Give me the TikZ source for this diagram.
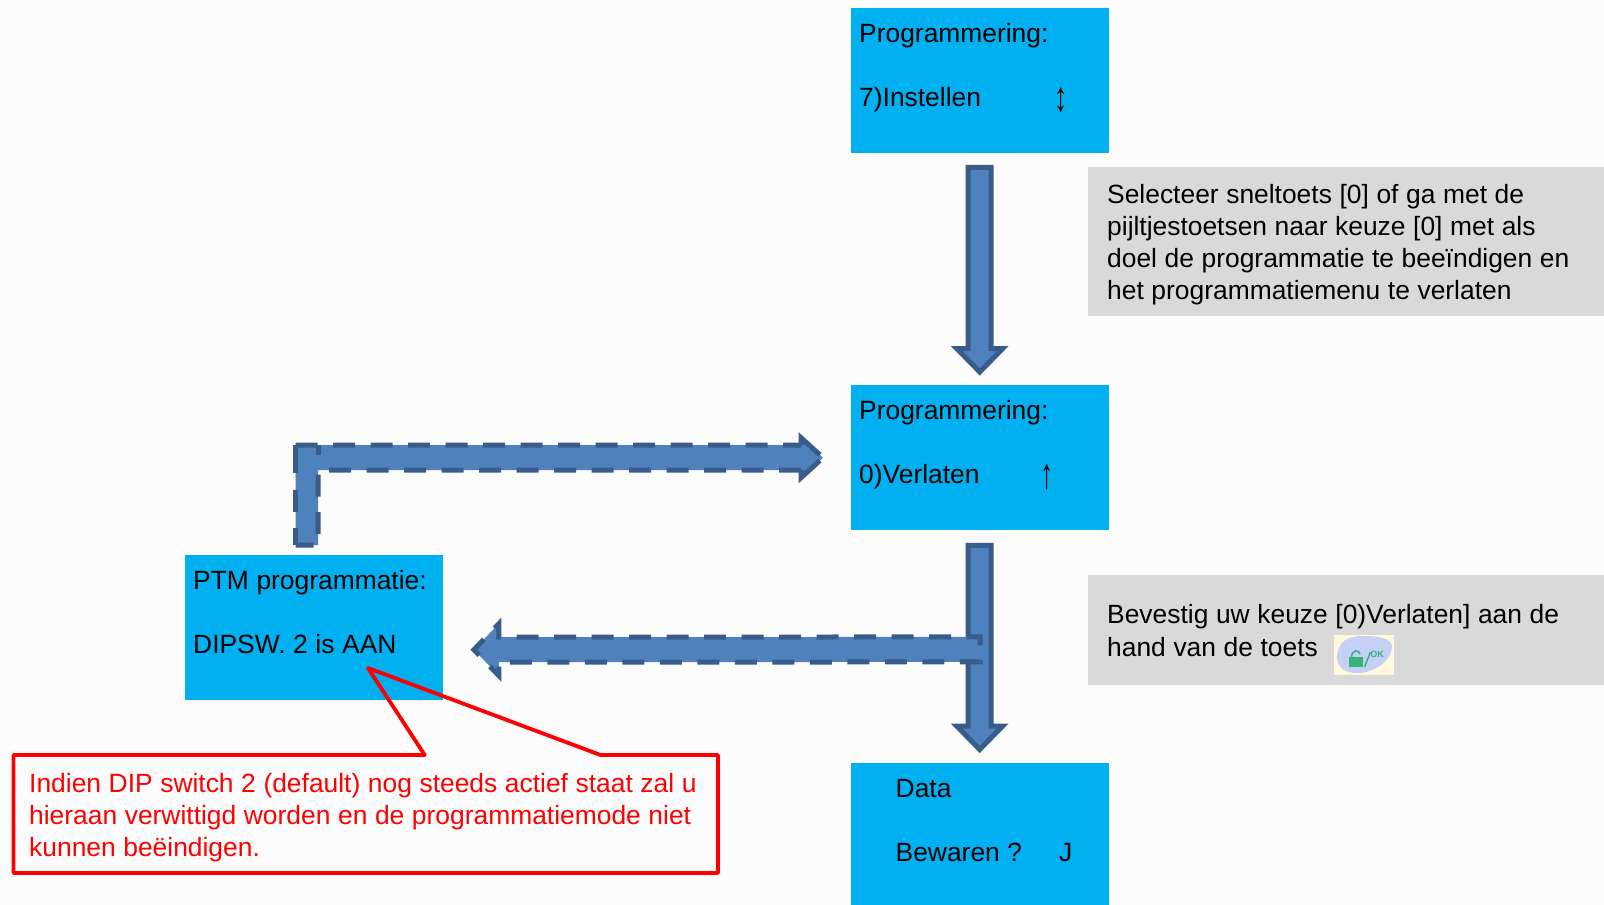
\documentclass[tikz,border=0pt]{standalone}
\usepackage{fontspec}
\usepackage{graphicx}
\setmainfont{Liberation Sans}
\usetikzlibrary{calc}
\definecolor{pagebg}{HTML}{FCFCFD}
\definecolor{lcdblue}{HTML}{00B0F0}
\definecolor{notegrey}{HTML}{D9D9D9}
\definecolor{arrowfill}{HTML}{4F81BD}
\definecolor{arrowline}{HTML}{385D8A}
\definecolor{keyyellow}{HTML}{FFF8DC}
\definecolor{keyblue}{HTML}{C4D0F6}
\definecolor{keygreen}{HTML}{35B57A}
\newcommand{\blockdown}[2]{%
  \draw[blockarrow] ($(#1)+(-11.5,0)$) -- ($(#1)+(11.5,0)$) -- ($(#2)+(11.5,-23.5)$)
    -- ($(#2)+(23,-23.5)$) -- (#2) -- ($(#2)+(-23,-23.5)$) -- ($(#2)+(-11.5,-23.5)$) -- cycle;}
\newcommand{\tallglyph}[1]{\smash{\raisebox{-5pt}{\scalebox{1}[1.6]{#1}}}}
\newcommand{\diagramfont}{\fontsize{26.4}{32}\selectfont}
\newcommand{\tightwords}{\setlength{\spaceskip}{7.6pt}}
\tikzset{
  txt/.style={font=\diagramfont},
  lcd/.style={txt,fill=lcdblue,anchor=north west,minimum width=258pt,minimum height=145pt,
    text width=242pt,inner xsep=8pt,inner ysep=0pt,align=left},
  note/.style={txt,fill=notegrey,anchor=north west,minimum width=516pt,
    text width=478pt,inner xsep=19pt,inner ysep=0pt,align=left},
  blockarrow/.style={fill=arrowfill,draw=arrowline,line width=5pt,miter limit=10},
  dashedblock/.style={blockarrow,dash pattern=on 22pt off 15.5pt},
  dashedstroke/.style={draw=arrowline,line width=5pt,dash pattern=on 22pt off 15.5pt},
  headstroke/.style={draw=arrowline,line width=5pt,dash pattern=on 33pt off 40pt},
  redline/.style={draw=red,line width=3.8pt,line join=round}
}
\begin{document}
\begin{tikzpicture}[x=1pt,y=-1pt]
\useasboundingbox (0,0) rectangle (1604,905);
\fill[pagebg] (0,0) rectangle (1604,905);

\node[lcd] (box1) at (851,8) {\tightwords Programmering:\\\mbox{}\\\makebox[195.6pt][l]{7)Instellen}\tallglyph{↕}\\\mbox{}};
\node[lcd] (box2) at (851,385) {\tightwords Programmering:\\\mbox{}\\\makebox[181pt][l]{0)Verlaten}\tallglyph{↑}\\\mbox{}};
\node[lcd] (box3) at (851,763) {\tightwords\rule{0pt}{19.5pt}\hspace*{36.5pt}Data\\\mbox{}\\\hspace*{36.5pt}\makebox[163.5pt][l]{Bewaren ?}J\\\mbox{}};
\node[lcd] (ptm) at (185,555) {\tightwords PTM programmatie:\\\mbox{}\\DIPSW. 2 is AAN\\\mbox{}};

\node[note,minimum height=148.5pt] (note1) at (1088,167) {\tightwords\rule{0pt}{25.3pt}Selecteer sneltoets [0] of ga met de\\pijltjestoetsen naar keuze [0] met als\\doel de programmatie te beeïndigen en\\het programmatiemenu te verlaten};
\node[note,minimum height=110pt] (note2) at (1088,575) {\tightwords Bevestig uw keuze [0)Verlaten] aan de\\[1pt]hand van de toets};

% key icon
\fill[keyyellow] (1334,635) rectangle (1394,675);
\fill[keyblue] (1337,656) .. controls (1338,640) and (1350,636) .. (1362,636)
  .. controls (1378,636) and (1393,638) .. (1392,648)
  .. controls (1391,660) and (1375,673) .. (1358,673)
  .. controls (1345,673) and (1337,668) .. (1337,656) -- cycle;
\fill[keygreen] (1349,657) rectangle (1362.5,667);
\draw[keygreen,line width=1.6pt] (1351.5,657) .. controls (1351.5,650) and (1359,649) .. (1360,654);
\draw[keygreen,line width=1.4pt] (1364.5,667) -- (1370.5,652);
\node[text=keygreen,font=\fontsize{9}{9}\selectfont\bfseries,inner sep=0pt] (keylabel) at (1377,654) {OK};

% block arrows
\coordinate (a1s) at ($(box1.south)+(-0.5,14)$);
\coordinate (a1e) at ($(box2.north)+(-0.5,-13)$);
\coordinate (a2s) at ($(box2.south)+(-0.5,15)$);
\coordinate (a2e) at ($(box3.north)+(-0.5,-13.5)$);
\blockdown{a1s}{a1e}
\blockdown{a2s}{a2e}

% bent dashed arrow from PTM box to box2
\coordinate (b1tip) at ($(box2.west)+(-28,0)$);
\coordinate (b1tail) at ($(ptm.north)+(-7.25,-10)$);
\fill[arrowfill]
  ($(b1tail)+(-11.25,-100)$) -- ($(b1tip)+(-22,-12.5)$) -- ($(b1tip)+(-22,-20)$) -- (b1tip)
  -- ($(b1tip)+(-22,20)$) -- ($(b1tip)+(-22,12.5)$) -- ($(b1tail)+(11.25,-75)$)
  -- ($(b1tail)+(11.25,0)$) -- ($(b1tail)+(-11.25,0)$) -- cycle;
\draw[dashedstroke]
  ($(b1tail)+(-11.25,-100)$) -- ($(b1tip)+(-22,-12.5)$);
\draw[headstroke] ($(b1tip)+(-22,-12.5)$) -- ($(b1tip)+(-22,-20)$) -- (b1tip);
\draw[headstroke] ($(b1tip)+(-22,12.5)$) -- ($(b1tip)+(-22,20)$) -- (b1tip);
\draw[dashedstroke]
  ($(b1tip)+(-22,12.5)$) -- ($(b1tail)+(11.25,-75)$) -- ($(b1tail)+(11.25,0)$) -- ($(b1tail)+(-11.25,0)$);
\draw[dashedstroke,dash pattern=on 28pt off 17pt on 22pt off 16pt on 18pt off 1pt]
  ($(b1tail)+(-11.25,-100)$) -- ($(b1tail)+(-11.25,0)$);
\draw[draw=arrowline,line width=5pt] ($(b1tail)+(11.25,-100)$) -- ($(b1tail)+(11.25,-90)$);

% dashed arrow from main flow to PTM box
\coordinate (b2tip) at ($(ptm.east)+(30.5,22)$);
\coordinate (b2tail) at ($(box2.south)+(0,119)$);
\draw[dashedblock]
  ($(b2tail)+(0,-4)$) -- ($(b2tail)+(0,-12.5)$) -- ($(b2tip)+(25,-12.5)$) -- ($(b2tip)+(25,-26)$)
  -- (b2tip) -- ($(b2tip)+(25,26)$) -- ($(b2tip)+(25,12.5)$) -- ($(b2tail)+(0,12.5)$) -- cycle;

% red callout
\draw[redline] (13.5,755) -- (424.7,755) -- (368,668) -- (600.5,755) -- (718,755)
  -- (718,873) -- (13.5,873) -- cycle;
\node[txt,text=red,anchor=north west,inner sep=0pt,text width=680pt,align=left] (callout) at (29,773)
  {\tightwords Indien DIP switch 2 (default) nog steeds actief staat zal u\\hieraan verwittigd worden en de programmatiemode niet\\kunnen beëindigen.};
\end{tikzpicture}
\end{document}
